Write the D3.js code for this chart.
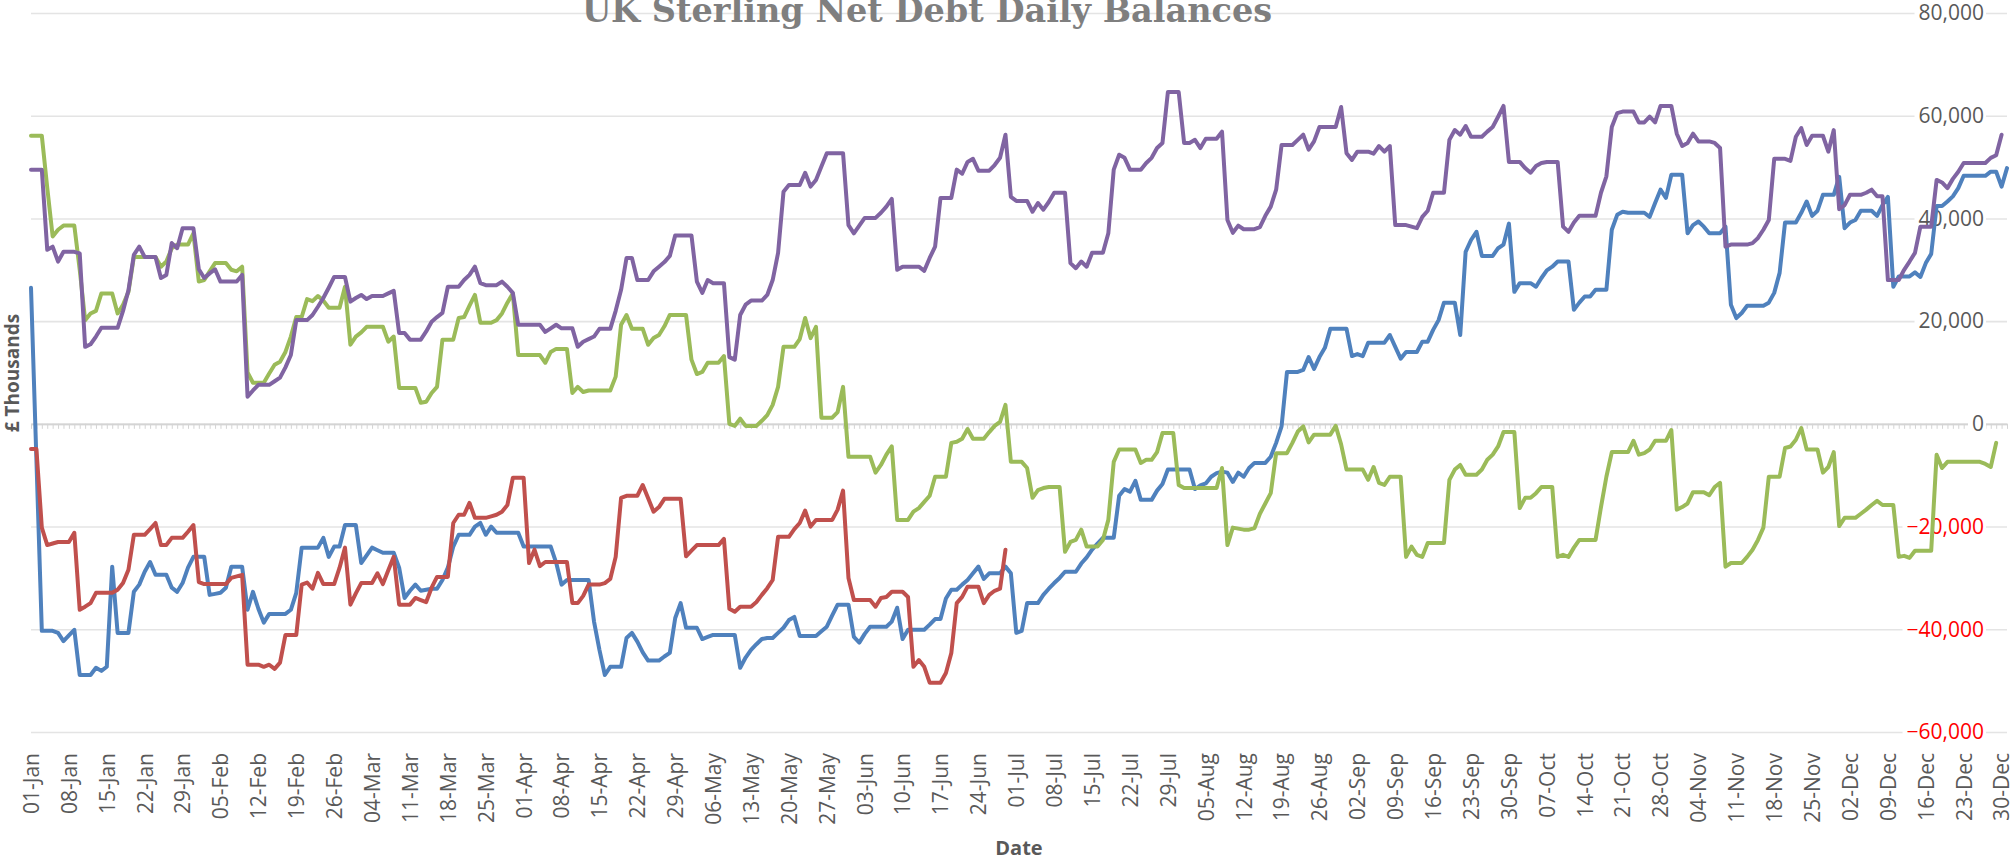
<!DOCTYPE html>
<html>
<head>
<meta charset="utf-8">
<script src="https://cdn.jsdelivr.net/npm/d3@7"></script>
<style>
  html, body { margin: 0; padding: 0; background: #ffffff; }
  svg { display: block; }
</style>
</head>
<body>
<svg id="chart" width="2012" height="860"></svg>
<script>
// Daily balances, one value per day starting 1 January of a leap year.
const startDate = new Date(2024, 0, 1);

const tickLabels = [
  "01-Jan","08-Jan","15-Jan","22-Jan","29-Jan","05-Feb","12-Feb","19-Feb","26-Feb",
  "04-Mar","11-Mar","18-Mar","25-Mar","01-Apr","08-Apr","15-Apr","22-Apr","29-Apr",
  "06-May","13-May","20-May","27-May","03-Jun","10-Jun","17-Jun","24-Jun","01-Jul",
  "08-Jul","15-Jul","22-Jul","29-Jul","05-Aug","12-Aug","19-Aug","26-Aug","02-Sep",
  "09-Sep","16-Sep","23-Sep","30-Sep","07-Oct","14-Oct","21-Oct","28-Oct","04-Nov",
  "11-Nov","18-Nov","25-Nov","02-Dec","09-Dec","16-Dec","23-Dec","30-Dec"
];

const yTicks = [-60000, -40000, -20000, 0, 20000, 40000, 60000, 80000];

const blueBalances = [
  26500,-7000,-40300,-40300,-40300,-40700,-42300,
  -41200,-40100,-48900,-48900,-48900,-47500,-48100,
  -47300,-27800,-40700,-40700,-40700,-32700,-31300,
  -28800,-26900,-29400,-29400,-29400,-31900,-32700,
  -31000,-28000,-25900,-25900,-25900,-33300,-33100,
  -32900,-31900,-27800,-27800,-27800,-36200,-32700,
  -36000,-38700,-37000,-37000,-37000,-37000,-36200,
  -32900,-24100,-24100,-24100,-24100,-22200,-25900,
  -23900,-23900,-19700,-19700,-19700,-27100,-25600,
  -24100,-24600,-25100,-25100,-25100,-28000,-33900,
  -32500,-31300,-32500,-32300,-32100,-32100,-30400,
  -28000,-23900,-21600,-21600,-21600,-20000,-19300,
  -21600,-20000,-21200,-21200,-21200,-21200,-21200,
  -23900,-23900,-23900,-23900,-23900,-23900,-27000,
  -31300,-30400,-30400,-30400,-30400,-30400,-38500,
  -44000,-48900,-47300,-47300,-47300,-41700,-40700,
  -42400,-44500,-46100,-46100,-46100,-45300,-44600,
  -37800,-34900,-39700,-39700,-39700,-41900,-41500,
  -41100,-41100,-41100,-41100,-41100,-47500,-45500,
  -44000,-42900,-41900,-41700,-41700,-40700,-39700,
  -38200,-37600,-41300,-41300,-41300,-41300,-40400,
  -39500,-37300,-35200,-35200,-35200,-41500,-42600,
  -40900,-39500,-39500,-39500,-39500,-38500,-35800,
  -41900,-40100,-40100,-40100,-40100,-39100,-38000,
  -38000,-34000,-32300,-32300,-31300,-30400,-29100,
  -27800,-30200,-29100,-29100,-29100,-27800,-29100,
  -40700,-40300,-34900,-34900,-34900,-33300,-32100,
  -31000,-30000,-28800,-28800,-28800,-27200,-26000,
  -24500,-23300,-22200,-22200,-22200,-14000,-12700,
  -13200,-11100,-14800,-14800,-14800,-13000,-11700,
  -8900,-8900,-8900,-8900,-8900,-12700,-12000,
  -11600,-10300,-9600,-9300,-9500,-11300,-9500,
  -10300,-8600,-7600,-7600,-7600,-6400,-3700,
  -500,10100,10100,10100,10500,13000,10700,
  13000,14800,18500,18500,18500,18500,13200,
  13600,13200,15800,15800,15800,15800,17300,
  15000,12700,14000,14000,14000,16000,16000,
  18300,20200,23600,23600,23600,17300,33500,
  35800,37400,32700,32700,32700,34200,34900,
  39000,25700,27400,27400,27400,26700,28400,
  29900,30600,31600,31600,31600,22200,23600,
  24800,24800,26100,26100,26100,37800,40700,
  41300,41100,41100,41100,41100,40300,43000,
  45600,44000,48500,48500,48500,37100,38700,
  39400,38400,37100,37100,37100,38400,23200,
  20600,21600,23000,23000,23000,23000,23600,
  25500,29400,39200,39200,39200,41100,43300,
  40500,41500,44600,44600,44600,48100,38100,
  39200,39700,41500,41500,41500,40500,42600,
  44200,26700,28700,28700,28700,29500,28600,
  31300,33100,42400,42400,43300,44300,45900,
  48300,48300,48300,48300,48300,49100,49100,
  46200,49800
];

const redBalances = [
  -4900,-4900,-20200,-23600,-23300,-23000,-23000,
  -23000,-21200,-36200,-35600,-34900,-32900,-32900,
  -32900,-32900,-32300,-31000,-28400,-21600,-21600,
  -21600,-20500,-19300,-23600,-23600,-22200,-22200,
  -22200,-21000,-19700,-30800,-31200,-31200,-31200,
  -31200,-31200,-30000,-29700,-29400,-46900,-46900,
  -46900,-47300,-46900,-47700,-46500,-41100,-41100,
  -41100,-31300,-30900,-32100,-29000,-31200,-31200,
  -31200,-28000,-24100,-35200,-33000,-31000,-31000,
  -31000,-29100,-31200,-28500,-25900,-35200,-35200,
  -35200,-33900,-34300,-34700,-31900,-29800,-29800,
  -29800,-19300,-17700,-17700,-15400,-18300,-18300,
  -18300,-18000,-17700,-17100,-15800,-10500,-10500,
  -10500,-27100,-24500,-27700,-26900,-26900,-26900,
  -26900,-26900,-34900,-34900,-33500,-31300,-31300,
  -31300,-31000,-30200,-25900,-14400,-14000,-14000,
  -14000,-11900,-14500,-17100,-16200,-14600,-14600,
  -14600,-14600,-25800,-24700,-23600,-23600,-23600,
  -23600,-23600,-22400,-36000,-36600,-35600,-35600,
  -35600,-34700,-33300,-32000,-30400,-22000,-22000,
  -22000,-20500,-19300,-16900,-20000,-18700,-18700,
  -18700,-18700,-16700,-13000,-30000,-34300,-34300,
  -34300,-34300,-35600,-33900,-33700,-32700,-32700,
  -32700,-33700,-47300,-46000,-47300,-50400,-50400,
  -50400,-48500,-44600,-34900,-33700,-31700,-31700,
  -31700,-34900,-33300,-32500,-32100,-24500
];

const greenBalances = [
  56100,56100,56100,46000,36500,37800,38600,
  38600,38600,30000,20200,21500,22000,25400,
  25400,25400,21500,23200,25700,32500,32500,
  32500,32500,32500,30600,31600,34200,34900,
  34900,34900,37100,27700,28000,29700,31300,
  31300,31300,30000,29700,30600,10000,8000,
  8000,8000,9800,11500,12100,14000,17000,
  20800,20800,24300,23900,24900,24000,22600,
  22600,22600,26700,15400,17000,17800,18900,
  18900,18900,18900,16000,17000,7000,7000,
  7000,7000,4100,4300,6000,7200,16400,
  16400,16400,20600,20800,23000,25100,19700,
  19700,19700,20200,21500,23600,25400,13400,
  13400,13400,13400,13400,11900,14000,14600,
  14600,14600,6000,7200,6200,6500,6500,
  6500,6500,6500,9200,19300,21200,18500,
  18500,18500,15400,16700,17300,19000,21200,
  21200,21200,21200,12500,9700,10100,11900,
  11900,11900,13200,0,-400,1000,-400,
  -400,-400,600,1700,3700,7200,15000,
  15000,15000,16500,20600,16700,18900,1200,
  1200,1200,2300,7200,-6400,-6400,-6400,
  -6400,-6400,-9500,-8000,-6000,-4400,-18700,
  -18700,-18700,-17100,-16400,-15200,-14000,-10300,
  -10300,-10300,-3700,-3500,-2900,-1000,-2900,
  -2900,-2900,-1600,-400,400,3700,-7400,
  -7400,-7400,-8600,-14400,-12900,-12500,-12300,
  -12300,-12300,-24900,-23000,-22600,-20600,-23900,
  -23900,-23900,-22600,-18700,-7400,-5000,-5000,
  -5000,-5000,-7600,-7000,-7000,-5500,-1800,
  -1800,-1800,-11900,-12500,-12500,-12500,-12500,
  -12500,-12500,-12500,-8600,-23600,-20200,-20400,
  -20600,-20600,-20300,-17500,-15500,-13500,-5700,
  -5700,-5700,-3700,-1500,-500,-3600,-2100,
  -2100,-2100,-2100,-400,-4000,-8900,-8900,
  -8900,-8900,-10900,-8400,-11500,-11900,-10300,
  -10300,-10300,-25900,-23900,-25500,-25900,-23200,
  -23200,-23200,-23200,-10900,-8900,-8000,-9900,
  -9900,-9900,-8900,-7000,-6000,-4400,-1600,
  -1600,-1600,-16400,-14400,-14400,-13500,-12300,
  -12300,-12300,-25900,-25500,-25900,-24100,-22600,
  -22600,-22600,-22600,-16200,-10300,-5500,-5500,
  -5500,-5500,-3300,-6000,-5700,-5000,-3300,
  -3300,-3300,-1200,-16700,-16200,-15500,-13300,
  -13300,-13300,-13900,-12300,-11500,-27800,-27100,
  -27100,-27100,-25900,-24500,-22600,-20200,-10300,
  -10300,-10300,-4700,-4400,-3100,-800,-5000,
  -5000,-5000,-9500,-8400,-5500,-19900,-18300,
  -18300,-18300,-17500,-16700,-15800,-15000,-15800,
  -15800,-15800,-25900,-25700,-26100,-24700,-24700,
  -24700,-24700,-6000,-8600,-7400,-7400,-7400,
  -7400,-7400,-7400,-7400,-7800,-8400,-3700
];

const purpleBalances = [
  49500,49500,49500,33900,34500,31600,33500,
  33500,33500,33200,15000,15500,17000,18700,
  18700,18700,18700,22000,26000,32900,34500,
  32500,32500,32500,28400,29000,35200,34200,
  38100,38100,38100,30100,28400,29300,30100,
  27700,27700,27700,27700,29000,5300,6500,
  7600,7600,7600,8300,9000,11000,13400,
  20200,20200,20200,21200,22800,24500,26500,
  28600,28600,28600,23800,24500,25100,24300,
  24900,24900,24900,25400,25900,17700,17700,
  16400,16400,16400,18000,19900,20800,21600,
  26700,26700,26700,28000,29000,30600,27400,
  27000,27000,27000,27700,26700,25500,19300,
  19300,19300,19300,19300,17900,18600,19300,
  18600,18600,18600,15000,16000,16500,17000,
  18500,18500,18500,22000,26100,32300,32300,
  28000,28000,28000,29700,30600,31500,32700,
  36700,36700,36700,36700,27700,25500,28000,
  27400,27400,27400,13000,12500,21200,23200,
  24000,24000,24000,25100,28000,33300,45200,
  46500,46500,46500,48900,46200,47500,50100,
  52700,52700,52700,52700,38700,37100,38600,
  40100,40100,40100,41100,42300,43800,30000,
  30600,30600,30600,30600,29800,32300,34500,
  44000,44000,44000,49500,48700,51000,51600,
  49300,49300,49300,50400,51800,56300,44200,
  43400,43400,43400,41300,43000,41700,43200,
  45000,45000,45000,31300,30300,31600,30600,
  33300,33300,33300,37100,49500,52400,51800,
  49500,49500,49500,50800,51800,53700,54700,
  64600,64600,64600,54700,54700,55300,53700,
  55500,55500,55500,56900,39700,37200,38600,
  37900,37900,37900,38300,40500,42300,45600,
  54300,54300,54300,55300,56300,53400,55000,
  57800,57800,57800,57800,61700,52700,51400,
  53000,53000,53000,52600,54100,53000,54100,
  38700,38700,38700,38400,38100,40300,41500,
  45000,45000,45000,55300,57200,56300,58000,
  55900,55900,55900,56900,57800,59800,61900,
  51000,51000,51000,49800,48900,50200,50800,
  51000,51000,51000,38400,37400,39200,40500,
  40500,40500,40500,45000,48200,57800,60500,
  60800,60800,60800,58700,58700,59800,58700,
  61900,61900,61900,56500,54100,54700,56500,
  55000,55000,55000,54700,53700,34500,34900,
  34900,34900,34900,35200,36200,37800,39700,
  51600,51600,51600,51200,55900,57600,54300,
  56100,56100,56100,53000,57200,41800,42600,
  44600,44600,44600,45000,45600,44300,44300,
  28000,28000,28000,30000,31600,33300,38400,
  38400,38400,47500,47000,45900,47700,49100,
  50800,50800,50800,50800,50800,51800,52300,
  56300
];

const seriesList = [
  { values: blueBalances,   color: "#4f81bd" },
  { values: redBalances,    color: "#c0504d" },
  { values: greenBalances,  color: "#9bbb59" },
  { values: purpleBalances, color: "#8064a2" }
];

const svg = d3.select("#chart");

const plotLeft = 31, plotRight = 2007;
const x = d3.scaleTime()
  .domain([startDate, d3.timeDay.offset(startDate, 365)])
  .range([plotLeft, plotRight]);
const y = d3.scaleLinear()
  .domain([-60000, 80000])
  .range([732, 13]);

const dayDate = i => d3.timeDay.offset(startDate, i);

// Horizontal gridlines
svg.append("g")
  .attr("transform", `translate(${plotLeft},0)`)
  .call(d3.axisRight(y).tickValues(yTicks).tickSize(plotRight - plotLeft).tickFormat(""))
  .call(g => g.select(".domain").remove())
  .call(g => g.selectAll(".tick line").attr("stroke", "#e4e4e4").attr("stroke-width", 1.6));

// Category axis along the zero line, with a tick mark for every day
svg.append("g")
  .attr("transform", `translate(0,${y(0)})`)
  .call(d3.axisBottom(x).ticks(d3.timeDay.every(1)).tickSize(5).tickSizeOuter(0).tickFormat(""))
  .call(g => g.select(".domain").attr("stroke", "#d4d4d4").attr("stroke-width", 1.6))
  .call(g => g.selectAll(".tick line").attr("stroke", "#d4d4d4").attr("stroke-width", 1));

// Weekly date labels, rotated
const labelAxis = svg.append("g")
  .attr("transform", "translate(0,753)")
  .call(d3.axisBottom(x)
    .tickValues(tickLabels.map((_, i) => dayDate(i * 7)))
    .tickFormat((d, i) => tickLabels[i])
    .tickSize(0))
  .call(g => g.select(".domain").remove());
labelAxis.selectAll(".tick text")
  .attr("font-family", "'Open Sans', 'Liberation Sans', sans-serif")
  .attr("font-size", 21)
  .attr("fill", "#595959")
  .attr("text-anchor", "end")
  .attr("x", 0)
  .attr("y", 0)
  .attr("dy", "0.35em")
  .attr("transform", "rotate(-90)");

// Value labels on the right, negatives in red
const valueAxis = svg.append("g")
  .attr("transform", "translate(1984,0)")
  .call(d3.axisLeft(y).tickValues(yTicks).tickSize(0).tickPadding(0).tickFormat(d3.format(",")))
  .call(g => g.select(".domain").remove());
valueAxis.selectAll(".tick text")
  .attr("font-family", "'Open Sans', 'Liberation Sans', sans-serif")
  .attr("font-size", 21)
  .attr("fill", d => d < 0 ? "#ff0000" : "#595959");
valueAxis.selectAll(".tick").each(function() {
  const t = d3.select(this).select("text");
  const b = t.node().getBBox();
  d3.select(this).insert("rect", "text")
    .attr("x", b.x - 4).attr("y", b.y + 2)
    .attr("width", b.width + 6).attr("height", b.height - 4)
    .attr("fill", "#ffffff");
});

// Balance lines
const line = d3.line()
  .x((d, i) => x(dayDate(i)))
  .y(d => y(d));

svg.append("g")
  .selectAll("path")
  .data(seriesList)
  .join("path")
  .attr("d", s => line(s.values))
  .attr("fill", "none")
  .attr("stroke", s => s.color)
  .attr("stroke-width", 4)
  .attr("stroke-linejoin", "round")
  .attr("stroke-linecap", "round");

// Titles
svg.append("text")
  .attr("x", 927).attr("y", 22)
  .attr("text-anchor", "middle")
  .attr("font-family", "'DejaVu Serif', serif")
  .attr("font-weight", "bold")
  .attr("font-size", 33.5)
  .attr("fill", "#7f7f7f")
  .text("UK Sterling Net Debt Daily Balances");

svg.append("text")
  .attr("x", (plotLeft + plotRight) / 2).attr("y", 855)
  .attr("text-anchor", "middle")
  .attr("font-family", "'Open Sans', 'Liberation Sans', sans-serif")
  .attr("font-weight", "bold")
  .attr("font-size", 20)
  .attr("fill", "#595959")
  .text("Date");

svg.append("text")
  .attr("transform", "translate(12,373) rotate(-90)")
  .attr("text-anchor", "middle")
  .attr("dy", "0.35em")
  .attr("font-family", "'Open Sans', 'Liberation Sans', sans-serif")
  .attr("font-weight", "bold")
  .attr("font-size", 19)
  .attr("fill", "#595959")
  .text("£ Thousands");
</script>
</body>
</html>
